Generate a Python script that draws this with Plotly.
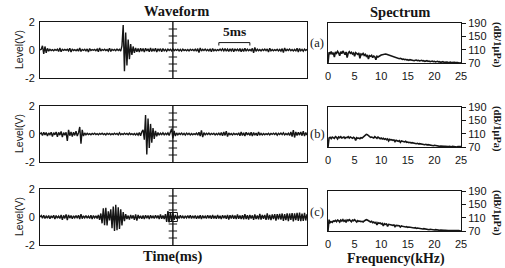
import plotly.graph_objects as go

# ---------------- data ----------------
# Waveforms, sampled every 0.2 ms, values in units of 0.01 V
DT_MS = 0.2
wave_a = [
    0, 5, 30, -28, 25, -20, 12, -8, 5, -4,
    3, -5, 4, -3, 6, -10, 15, -12, 5, -3,
    4, -2, 5, -6, 12, -15, 8, -4, 3, -5,
    4, -8, 14, -10, 4, -3, 5, -6, 8, -15,
    10, -4, 3, -2, 4, -5, 6, -12, 15, -8,
    4, -3, 5, -4, 3, -8, 12, -10, 5, -3,
    4, -5, 6, -4, 5, -8, 30, 178, -152, 125,
    -110, 75, -65, 42, -35, 25, -20, 15, -12, 10,
    -14, 12, -8, 10, -15, 12, -6, 8, -12, 14,
    -10, 6, -8, 12, -14, 8, -5, 9, -12, 10,
    -6, 5, -8, 6, -4, 5, -6, 8, -5, 4,
    -3, 5, -6, 4, -8, 6, -4, 3, -5, 4,
    -6, 5, -3, 4, -5, 6, -8, 10, -18, 15,
    -8, 5, -4, 6, -5, 4, -6, 8, -12, 10,
    -6, 4, -5, 3, -4, 6, -5, 8, -6, 10,
    -8, 6, -10, 8, -6, 10, -12, 8, -5, 6,
    -8, 10, -12, 8, -10, 12, -8, 6, -5, 4,
    -6, 12, -20, 18, -10, 6, -5, 4, -6, 5,
    -4, 6, -5, 8, -15, 12, -6, 4, -5, 3,
    -4, 5, -6, 4, -8, 10, -18, 15, -8, 5,
    -4, 6, -5, 4, -6, 5, -8, 12, -15, 10,
    -6, 5, -8, 6, -4, 5,
]
wave_b = [
    0, 8, -10, 12, -6, 10, -15, 8, -5, 12,
    -18, 10, -6, 15, -20, 12, -8, 18, -22, 10,
    -8, 12, -50, 30, -12, 15, -18, 12, -10, 20,
    -15, 8, 50, -70, 30, -15, 8, -6, 5, -4,
    3, -5, 4, -3, 6, -4, 3, -5, 4, -3,
    5, -4, 3, -6, 5, -3, 4, -5, 3, -4,
    5, -3, 4, -6, 8, -5, 3, -4, 5, -3,
    4, -5, 6, -4, 3, -5, 4, -6, 5, -8,
    10, -12, 15, 30, -40, 135, -146, 110, -100, 72,
    -62, 42, -35, 22, -16, 10, -8, 6, -5, 8,
    -6, 5, -4, 8, -10, 12, 38, -32, 22, -15,
    8, -6, 5, -4, 6, -5, 4, -8, 6, -4,
    5, -6, 4, -5, 3, -4, 6, -8, 12, -15,
    25, -22, 10, -6, 5, -4, 6, -5, 4, -3,
    5, -6, 4, -5, 6, -8, 10, -12, 15, -10,
    20, -18, 8, -5, 4, -6, 5, -4, 3, -5,
    8, -12, 15, -10, 8, -14, 12, -6, 8, -10,
    12, -15, 10, -8, 6, -12, 14, -8, 5, -6,
    4, -5, 3, -4, 5, -6, 4, -3, 5, -4,
    6, -8, 5, -4, 6, -5, 8, -6, 4, -5,
    6, -10, 15, -18, 28, -25, 15, -10, 12, -8,
    15, -12, 20, -15, 10, -8,
]
wave_c = [
    0, 10, -8, 12, -10, 6, -8, 10, -12, 8,
    -6, 12, -15, 10, -8, 6, -10, 15, -20, 12,
    -10, 18, -22, 15, -8, 10, -12, 8, -6, 10,
    -8, 12, -15, 20, -12, 8, -6, 10, -8, 6,
    -10, 12, -15, 10, -6, 8, -10, 15, -20, 25,
    -45, 62, -58, 66, -60, 40, -25, 55, -80, 75,
    -100, 87, -95, 70, -85, 55, -60, 35, -30, 20,
    -15, 10, -18, 15, -10, 12, -20, 18, -25, 15,
    -10, 8, -12, 10, -15, 12, -8, 10, -14, 12,
    -8, 6, -10, 12, -8, 10, -15, 18, -12, 10,
    -15, 20, -35, 42, -38, 35, -30, 28, -20, 15,
    -12, 8, -10, 12, -8, 6, -10, 8, -6, 10,
    -8, 12, -10, 8, -6, 10, -12, 8, -10, 12,
    -15, 10, -8, 6, -10, 12, -8, 10, -12, 14,
    -10, 8, -12, 15, -10, 8, -14, 12, -8, 10,
    -12, 15, -18, 12, -10, 14, -12, 10, -15, 18,
    -12, 10, -14, 12, -16, 20, -15, 12, -18, 15,
    -10, 12, -20, 18, -14, 10, -16, 22, -18, 14,
    -12, 15, -20, 25, -18, 14, -22, 18, -15, 20,
    -25, 20, -16, 22, -18, 25, -28, 20, -22, 26,
    -30, 25, -20, 28, -32, 26, -22, 30, -28, 32,
    -30, 25, -28, 30, -25, 20,
]

# Spectra, sampled every 0.2 kHz, values in dB re 1 uPa
DF_KHZ = 0.2
spec_a = [
    70, 102, 98, 104, 96, 101, 88, 103, 99, 105,
    100, 92, 104, 98, 106, 101, 95, 103, 86, 100,
    104, 99, 102, 97, 100, 90, 101, 98, 96, 100,
    84, 97, 95, 99, 93, 96, 90, 94, 82, 92,
    90, 93, 86, 91, 89, 80, 90, 88, 91, 92,
    94, 95, 96, 97, 97, 96, 95, 93, 92, 90,
    91, 89, 88, 86, 87, 84, 85, 83, 84, 82,
    81, 82, 80, 81, 79, 80, 78, 80, 79, 78,
    79, 77, 78, 79, 77, 78, 76, 77, 78, 76,
    77, 75, 76, 77, 75, 76, 74, 75, 76, 74,
    75, 73, 74, 75, 73, 74, 72, 73, 74, 72,
    73, 72, 73, 71, 72, 73, 71, 72, 71, 72,
    71, 72, 71, 70, 71, 71,
]
spec_b = [
    70, 97, 99, 95, 100, 98, 96, 101, 99, 94,
    100, 98, 101, 97, 99, 100, 96, 99, 98, 101,
    97, 100, 98, 96, 99, 97, 90, 98, 96, 97,
    95, 98, 97, 100, 103, 106, 108, 107, 104, 101,
    99, 100, 98, 97, 101, 99, 96, 100, 98, 95,
    97, 94, 96, 93, 95, 92, 94, 88, 93, 91,
    92, 90, 91, 86, 90, 89, 87, 89, 84, 88,
    87, 86, 85, 87, 84, 85, 83, 84, 82, 83,
    82, 81, 82, 80, 81, 79, 80, 79, 78, 79,
    78, 77, 78, 76, 77, 76, 75, 76, 75, 74,
    75, 74, 73, 74, 73, 72, 73, 72, 73, 72,
    72, 71, 72, 71, 72, 71, 71, 72, 71, 71,
    71, 70, 71, 71, 70, 71,
]
spec_c = [
    70, 104, 95, 98, 96, 100, 99, 102, 98, 103,
    101, 97, 103, 100, 104, 99, 102, 96, 103, 101,
    104, 100, 98, 103, 101, 104, 100, 97, 101, 99,
    100, 98, 99, 97, 100, 102, 104, 103, 100, 98,
    97, 99, 95, 97, 94, 96, 88, 95, 93, 94,
    91, 93, 85, 92, 90, 91, 84, 90, 89, 88,
    89, 87, 88, 83, 87, 86, 85, 86, 82, 85,
    84, 83, 84, 82, 83, 81, 82, 81, 80, 81,
    80, 79, 80, 78, 79, 78, 77, 78, 77, 76,
    77, 76, 75, 76, 75, 74, 75, 74, 73, 74,
    73, 74, 73, 72, 73, 72, 73, 72, 71, 72,
    72, 71, 72, 71, 71, 72, 71, 71, 70, 71,
    71, 70, 71, 71, 70, 70,
]

panel_labels = ["(a)", "(b)", "(c)"]
wave_yticks = [-2, 0, 2]
wave_yticktext = ["-2", "0", "2"]
spec_xticks = [0, 5, 10, 15, 20, 25]
spec_yticks = [70, 110, 150, 190]
center_ticks_v = [-1.5, -1.0, -0.5, 0.5, 1.0, 1.5]
CENTER_MS = 21.4
SCALE_BAR_START_MS = 28.8
SCALE_BAR_MS = 5

# ---------------- layout helpers ----------------
W, H = 505, 268
def px(x): return x / W
def py(y): return 1 - y / H

INK = "#151515"
SANS = "Liberation Sans, Arial, sans-serif"
SERIF = "Liberation Serif, Times New Roman, serif"

wave_top = [22, 106, 189]
wave_h = 56
spec_top = [23, 107, 191]
spec_h = 40
label_y = [43, 134, 212]

fig = go.Figure()
layout = dict(
    template="none",
    width=W, height=H, margin=dict(l=0, r=0, t=0, b=0, pad=0, autoexpand=False),
    paper_bgcolor="white", plot_bgcolor="white", showlegend=False,
)

waves = [wave_a, wave_b, wave_c]
specs = [spec_a, spec_b, spec_c]
annotations = []
shapes = []

def note(text, x, y, size, family, angle=0, xref="paper", yref="paper"):
    return dict(x=x, y=y, xref=xref, yref=yref, text=text, textangle=angle,
                showarrow=False, xanchor="center", yanchor="middle", borderpad=0,
                font=dict(family=family, size=size, color=INK))

for k in range(3):
    wx = 2 * k + 1
    sx = 2 * k + 2
    wxa = "x" if wx == 1 else f"x{wx}"
    wya = "y" if wx == 1 else f"y{wx}"
    sxa = f"x{sx}"
    sya = f"y{sx}"

    w = [v / 100 for v in waves[k]]
    t = [i * DT_MS for i in range(len(w))]
    fig.add_trace(go.Scatter(x=t, y=w, mode="lines", xaxis=wxa, yaxis=wya,
                             line=dict(color=INK, width=1.4), hoverinfo="skip"))
    # centre marker line with cross ticks
    fig.add_trace(go.Scatter(x=[CENTER_MS, CENTER_MS], y=[-2, 2], mode="lines",
                             xaxis=wxa, yaxis=wya, line=dict(color=INK, width=1.4),
                             hoverinfo="skip"))
    fig.add_trace(go.Scatter(x=[CENTER_MS] * len(center_ticks_v), y=center_ticks_v,
                             mode="markers", xaxis=wxa, yaxis=wya,
                             marker=dict(symbol="line-ew", size=6, color=INK,
                                         line=dict(color=INK, width=1)),
                             hoverinfo="skip"))
    if k == 2:
        fig.add_trace(go.Scatter(x=[CENTER_MS], y=[0], mode="markers",
                                 xaxis=wxa, yaxis=wya,
                                 marker=dict(symbol="square-open", size=9, color=INK,
                                             line=dict(color=INK, width=1)),
                                 hoverinfo="skip"))

    f = [i * DF_KHZ for i in range(len(specs[k]))]
    fig.add_trace(go.Scatter(x=f, y=specs[k], mode="lines", xaxis=sxa, yaxis=sya,
                             line=dict(color=INK, width=1.6), hoverinfo="skip"))

    wy0 = py(wave_top[k] + wave_h)
    wy1 = py(wave_top[k])
    sy0 = py(spec_top[k] + spec_h)
    sy1 = py(spec_top[k])

    xkey = "xaxis" if wx == 1 else f"xaxis{wx}"
    ykey = "yaxis" if wx == 1 else f"yaxis{wx}"
    layout[xkey] = dict(domain=[px(40), px(307)], range=[0, 43], anchor=wya,
                        showticklabels=False, ticks="", showgrid=False, zeroline=False,
                        automargin=False,
                        showline=True, mirror=True, linecolor=INK, linewidth=1)
    layout[ykey] = dict(domain=[wy0, wy1], range=[-2, 2], anchor=wxa,
                        tickvals=wave_yticks, ticktext=wave_yticktext,
                        tickfont=dict(family=SANS, size=11, color=INK),
                        ticks="outside", ticklen=2, tickcolor="rgba(0,0,0,0)",
                        showgrid=False, zeroline=False, automargin=False,
                        showline=True, mirror=True, linecolor=INK, linewidth=1)
    layout[f"xaxis{sx}"] = dict(domain=[px(328), px(461)], range=[0, 25], anchor=sya,
                                tickvals=spec_xticks,
                                tickfont=dict(family=SANS, size=11, color=INK),
                                ticks="outside", ticklen=3, tickcolor="rgba(0,0,0,0)",
                                showgrid=False, zeroline=False, automargin=False,
                                showline=True, mirror=True, linecolor=INK, linewidth=1)
    layout[f"yaxis{sx}"] = dict(domain=[sy0, sy1], range=[70, 190], anchor=sxa,
                                side="right", tickvals=spec_yticks,
                                tickfont=dict(family=SANS, size=11, color=INK),
                                ticks="outside", ticklen=4, tickcolor=INK,
                                showgrid=False, zeroline=False, automargin=False,
                                showline=True, mirror=True, linecolor=INK, linewidth=1)

    ymid = wave_top[k] + wave_h / 2
    annotations.append(note("Level(V)", px(19), py(ymid), 10.5, SANS, angle=-90))
    annotations.append(note(panel_labels[k], px(317), py(label_y[k]), 12.5, SERIF))
    annotations.append(note("<b>(dB/1μPa)</b>", px(497), py(spec_top[k] + spec_h / 2 + 2),
                            10.5, SERIF, angle=90))

# scale bar "5ms" in panel (a), drawn in data coordinates
shapes.append(dict(type="path", xref="x", yref="y",
                   path=(f"M {SCALE_BAR_START_MS},0.32 L {SCALE_BAR_START_MS},0.53 "
                         f"L {SCALE_BAR_START_MS + SCALE_BAR_MS},0.53 "
                         f"L {SCALE_BAR_START_MS + SCALE_BAR_MS},0.32"),
                   line=dict(color=INK, width=1)))
annotations.append(note("<b>5ms</b>", px(234), py(31), 13.5, SERIF))

titles = [("Waveform", 176, 11, 14.5), ("Spectrum", 400, 12, 14.5),
          ("Time(ms)", 173, 256, 14.5), ("Frequency(kHz)", 396, 258.5, 14)]
for txt, x, y, s in titles:
    annotations.append(note(f"<b>{txt}</b>", px(x), py(y), s, SERIF))

layout["annotations"] = annotations
layout["shapes"] = shapes
fig.update_layout(**layout)
fig.write_html("out.html", config={"displayModeBar": False},
               post_script="document.body.style.margin='0px';")
